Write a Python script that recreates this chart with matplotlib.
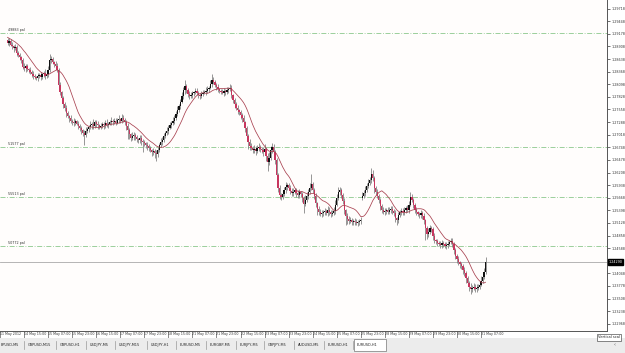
import numpy as np
import pandas as pd
import matplotlib
matplotlib.use("Agg")
import matplotlib.pyplot as plt

# EURUSD H1 closes. The first 13 bars are history left of the visible window
# (they only feed the moving average); bar 0 of the window is 14 May 04:00.
n_hidden = 13
closes = [
    1.2926, 1.2921, 1.2917, 1.2919, 1.2915, 1.2913, 1.2909, 1.2911, 1.2904, 1.2906, 1.2902, 1.2900, 1.2904,
    1.2898, 1.2902, 1.2894, 1.2891, 1.2887, 1.2889, 1.2876, 1.2872, 1.2868, 1.2861,
    1.2847, 1.2844, 1.2849, 1.2842, 1.2840, 1.2836, 1.2832, 1.2827, 1.2825, 1.2823,
    1.2827, 1.2829, 1.2825, 1.2832, 1.2834, 1.2827, 1.2832, 1.2840, 1.2861, 1.2864,
    1.2857, 1.2853, 1.2849, 1.2840, 1.2808, 1.2793, 1.2780, 1.2767, 1.2759, 1.2748,
    1.2742, 1.2737, 1.2731, 1.2729, 1.2727, 1.2731, 1.2725, 1.2720, 1.2716, 1.2712,
    1.2705, 1.2701, 1.2710, 1.2714, 1.2718, 1.2722, 1.2725, 1.2720, 1.2729, 1.2725,
    1.2722, 1.2718, 1.2720, 1.2725, 1.2722, 1.2727, 1.2722, 1.2725, 1.2729, 1.2731,
    1.2729, 1.2731, 1.2727, 1.2733, 1.2735, 1.2731, 1.2737, 1.2733, 1.2729, 1.2720,
    1.2712, 1.2703, 1.2695, 1.2699, 1.2701, 1.2697, 1.2692, 1.2690, 1.2695, 1.2688,
    1.2686, 1.2684, 1.2680, 1.2677, 1.2673, 1.2669, 1.2665, 1.2667, 1.2662, 1.2660,
    1.2669, 1.2680, 1.2686, 1.2690, 1.2699, 1.2705, 1.2710, 1.2716, 1.2722, 1.2727,
    1.2731, 1.2737, 1.2746, 1.2754, 1.2763, 1.2772, 1.2784, 1.2797, 1.2806, 1.2797,
    1.2789, 1.2784, 1.2787, 1.2791, 1.2793, 1.2795, 1.2791, 1.2787, 1.2784, 1.2789,
    1.2791, 1.2793, 1.2795, 1.2799, 1.2802, 1.2810, 1.2819, 1.2814, 1.2808, 1.2804,
    1.2799, 1.2795, 1.2793, 1.2791, 1.2795, 1.2793, 1.2797, 1.2799, 1.2802, 1.2787,
    1.2776, 1.2767, 1.2759, 1.2754, 1.2750, 1.2744, 1.2737, 1.2729, 1.2716, 1.2699,
    1.2686, 1.2677, 1.2673, 1.2669, 1.2671, 1.2667, 1.2673, 1.2675, 1.2671, 1.2669,
    1.2665, 1.2671, 1.2656, 1.2643, 1.2652, 1.2669, 1.2675, 1.2665, 1.2647, 1.2615,
    1.2588, 1.2573, 1.2568, 1.2575, 1.2583, 1.2590, 1.2594, 1.2588, 1.2581, 1.2577,
    1.2579, 1.2583, 1.2577, 1.2573, 1.2579, 1.2575, 1.2566, 1.2553, 1.2562, 1.2571,
    1.2579, 1.2588, 1.2596, 1.2583, 1.2571, 1.2555, 1.2543, 1.2536, 1.2532, 1.2534,
    1.2536, 1.2538, 1.2534, 1.2540, 1.2536, 1.2532, 1.2534, 1.2538, 1.2551, 1.2566,
    1.2579, 1.2583, 1.2573, 1.2560, 1.2540, 1.2528, 1.2521, 1.2517, 1.2519, 1.2515,
    1.2517, 1.2515, 1.2513, 1.2515, 1.2517, 1.2519, 1.2571, 1.2577, 1.2583, 1.2592,
    1.2598, 1.2605, 1.2618, 1.2609, 1.2588, 1.2579, 1.2571, 1.2562, 1.2549, 1.2540,
    1.2536, 1.2538, 1.2540, 1.2536, 1.2540, 1.2543, 1.2538, 1.2534, 1.2523, 1.2519,
    1.2530, 1.2536, 1.2538, 1.2536, 1.2540, 1.2545, 1.2540, 1.2551, 1.2568, 1.2562,
    1.2551, 1.2540, 1.2536, 1.2532, 1.2530, 1.2534, 1.2528, 1.2519, 1.2502, 1.2489,
    1.2493, 1.2502, 1.2500, 1.2485, 1.2476, 1.2474, 1.2470, 1.2468, 1.2466, 1.2470,
    1.2468, 1.2463, 1.2466, 1.2468, 1.2472, 1.2474, 1.2468, 1.2455, 1.2442, 1.2436,
    1.2429, 1.2425, 1.2421, 1.2412, 1.2406, 1.2395, 1.2384, 1.2376, 1.2371, 1.2374,
    1.2376, 1.2371, 1.2374, 1.2376, 1.2380, 1.2389, 1.2397, 1.2408, 1.2429,
]
first_open = 1.2928
gap_opens = {n_hidden + 236: 1.2566}  # Monday 28 May opening gap

# wick lengths above / below the body, in pips
upper_wick = [
    5, 4, 6, 3, 5, 4, 6, 5, 3, 6, 4, 5, 4,
    5, 7, 4, 6, 3, 8, 4, 6, 5, 3, 6, 8, 4, 5, 3, 6, 4, 7, 5, 3,
    6, 4, 8, 3, 5, 9, 4, 10, 14, 6, 5, 3, 6, 7, 4, 6, 3, 5, 4, 7,
    5, 3, 6, 4, 9, 5, 3, 6, 4, 5, 3, 6, 8, 4, 5, 9, 3, 10, 5, 4,
    6, 3, 7, 5, 4, 6, 8, 3, 5, 9, 4, 6, 7, 5, 9, 3, 10, 6, 4, 5,
    7, 5, 3, 9, 6, 4, 5, 3, 7, 6, 4, 5, 3, 6, 4, 5, 3, 7, 4, 6,
    7, 5, 9, 6, 7, 5, 9, 6, 7, 5, 9, 6, 7, 9, 5, 7, 10, 8, 12, 5,
    4, 6, 7, 5, 3, 6, 7, 5, 4, 6, 7, 5, 9, 7, 5, 10, 12, 7, 5, 4,
    6, 3, 5, 7, 6, 4, 7, 5, 9, 6, 3, 5, 4, 6, 3, 5, 4, 6, 3, 5,
    4, 6, 7, 5, 9, 6, 7, 9, 5, 4, 7, 10, 5, 7, 12, 9, 10, 6, 4, 5,
    4, 6, 3, 9, 7, 10, 5, 4, 7, 6, 9, 5, 4, 7, 6, 3, 5, 4, 10, 9,
    7, 10, 22, 5, 4, 6, 3, 5, 7, 6, 4, 7, 5, 9, 6, 4, 7, 9, 10, 9,
    10, 7, 5, 4, 6, 3, 5, 7, 6, 4, 5, 7, 6, 4, 5, 7, 9, 7, 9, 7,
    9, 7, 12, 9, 5, 4, 6, 3, 5, 4, 6, 7, 5, 7, 6, 7, 5, 4, 6, 3,
    7, 5, 7, 6, 7, 5, 7, 9, 12, 7, 5, 4, 6, 3, 5, 7, 4, 6, 3, 5,
    9, 7, 5, 4, 6, 3, 5, 4, 6, 7, 5, 4, 6, 7, 5, 7, 6, 3, 5, 4,
    6, 3, 5, 4, 6, 3, 5, 4, 7, 6, 7, 5, 7, 6, 7, 9, 7, 9, 10,
]
lower_wick = [
    4, 5, 3, 6, 4, 5, 3, 4, 6, 3, 7, 4, 5,
    4, 6, 3, 5, 7, 4, 6, 3, 7, 5, 4, 6, 7, 3, 5, 4, 7, 6, 3, 5,
    7, 4, 6, 3, 7, 5, 4, 6, 3, 5, 4, 7, 6, 3, 10, 7, 5, 7, 6, 9,
    5, 7, 4, 6, 7, 5, 3, 7, 6, 9, 7, 22, 5, 4, 6, 3, 7, 5, 4, 6,
    7, 4, 5, 3, 7, 6, 4, 5, 3, 7, 6, 4, 5, 3, 6, 4, 5, 3, 7, 9,
    20, 10, 7, 5, 9, 7, 6, 7, 5, 9, 22, 7, 6, 9, 7, 5, 9, 7, 10, 14,
    7, 5, 4, 6, 3, 5, 4, 6, 3, 5, 4, 6, 3, 5, 4, 6, 3, 5, 7, 6,
    7, 5, 4, 6, 7, 3, 5, 7, 6, 4, 5, 3, 6, 4, 5, 3, 6, 4, 5, 7,
    6, 4, 5, 3, 7, 6, 4, 5, 3, 7, 6, 7, 5, 7, 6, 9, 7, 5, 9, 10,
    14, 7, 5, 7, 6, 9, 5, 7, 6, 7, 9, 5, 10, 18, 7, 5, 7, 9, 7, 10,
    9, 10, 7, 5, 4, 6, 7, 5, 7, 6, 7, 5, 9, 7, 6, 7, 9, 20, 5, 4,
    6, 4, 5, 7, 6, 9, 14, 7, 5, 7, 6, 7, 5, 7, 6, 7, 5, 4, 6, 3,
    5, 7, 6, 7, 9, 20, 10, 7, 5, 7, 6, 7, 5, 7, 6, 7, 5, 4, 6, 3,
    5, 4, 6, 7, 12, 7, 5, 7, 9, 7, 5, 7, 6, 4, 5, 7, 6, 7, 9, 10,
    7, 5, 7, 6, 7, 5, 4, 6, 3, 5, 7, 6, 7, 5, 7, 6, 7, 9, 26, 10,
    7, 5, 7, 9, 7, 6, 7, 5, 7, 6, 7, 5, 7, 6, 4, 5, 7, 9, 7, 9,
    7, 9, 7, 9, 7, 12, 7, 9, 10, 7, 5, 7, 6, 4, 5, 3, 5, 4, 5,
]
ma_period = 14

# time scale: one label every 16 bars, starting at 11 May 23:00 (bar -5)
time_labels = [
    "11 May 2012", "14 May 15:00", "15 May 07:00", "15 May 23:00", "16 May 15:00",
    "17 May 07:00", "17 May 23:00", "18 May 15:00", "21 May 07:00", "21 May 23:00",
    "22 May 15:00", "23 May 07:00", "23 May 23:00", "24 May 15:00", "25 May 07:00",
    "25 May 23:00", "28 May 15:00", "29 May 07:00", "29 May 23:00", "30 May 15:00",
    "31 May 07:00",
]
# 1.24318 sits under the current-price box, so it is left out
price_ticks = [
    1.29718, 1.29448, 1.29178, 1.28908, 1.28638, 1.28368, 1.28098, 1.27828, 1.27558,
    1.27288, 1.27018, 1.26748, 1.26478, 1.26208, 1.25938, 1.25668, 1.25398, 1.25128,
    1.24858, 1.24588, 1.24048, 1.23778, 1.23508, 1.23238, 1.22968,
]
pivot_levels = [1.29191, 1.26761, 1.25677, 1.24634]
pivot_names = ["49883 pal", "51577 pal", "55513 pal", "50772 pal"]
current_price = 1.24290

tab_names = ["BPUSD,M5", "GBPUSD,M15", "GBPUSD,H1", "USDJPY,M5", "USDJPY,M15",
             "USDJPY,H1", "EURUSD,M5", "EURGBP,M5", "EURJPY,M5", "GBPJPY,M5",
             "AUDUSD,M5", "EURUSD,H1", "EURUSD,H1"]
active_tab = 12

# ---- build OHLC ----
df = pd.DataFrame({"close": closes})
df["open"] = df["close"].shift(1)
df.loc[0, "open"] = first_open
for i, v in gap_opens.items():
    df.loc[i, "open"] = v
df["high"] = df[["open", "close"]].max(axis=1) + np.array(upper_wick) * 1e-4
df["low"] = df[["open", "close"]].min(axis=1) - np.array(lower_wick) * 1e-4
df["ma"] = df["close"].rolling(ma_period).mean()
df["x"] = np.arange(len(df)) - n_hidden
vis = df[df["x"] >= 0]

W, H = 625, 353
fig = plt.figure(figsize=(W / 100, H / 100), dpi=100)
fig.patch.set_facecolor("#ffffff")
ax = fig.add_axes([0, 22 / H, 607 / W, 331 / H])
ax.set_facecolor("#fffdfc")

bull = vis[vis["close"] >= vis["open"]]
bear = vis[vis["close"] < vis["open"]]
ax.vlines(vis["x"], vis["low"], vis["high"], color="#7a7a7a", lw=0.55, zorder=2)
ax.bar(bull["x"], bull["close"] - bull["open"], bottom=bull["open"], width=0.85,
       color="#111111", lw=0, zorder=3)
ax.bar(bear["x"], bear["close"] - bear["open"], bottom=bear["open"], width=0.85,
       color="#c8365f", lw=0, zorder=3)
ax.plot(df["x"], df["ma"], color="#a8404f", lw=0.55, zorder=4)

for lvl, name in zip(pivot_levels, pivot_names):
    ax.axhline(lvl, color="#8cc88c", lw=0.6, ls=(0, (6, 2, 1, 2)), zorder=1)
    ax.text(0, lvl + 0.0002, name, fontsize=2.4, color="#333333", ha="left", va="bottom")
ax.axhline(current_price, color="#a9a9a9", lw=0.6, zorder=1)

ax.set_xlim(-0.5, 398.8)
ax.set_ylim(1.22812, 1.29904)
for s in ("top", "left"):
    ax.spines[s].set_visible(False)
for s in ("right", "bottom"):
    ax.spines[s].set_color("#555555")
    ax.spines[s].set_linewidth(0.7)

ax.yaxis.tick_right()
ax.set_yticks(price_ticks, [f"{p:.5f}" for p in price_ticks])
ax.tick_params(axis="y", length=2, width=0.5, pad=1, labelsize=2.4, colors="#333333")
tpos = [-5 + 16 * k for k in range(len(time_labels))]
ax.set_xticks(tpos, time_labels, ha="left")
ax.tick_params(axis="x", length=5, width=0.4, pad=-4.4, labelsize=2.3,
               colors="#333333", direction="out")

ax.annotate(f"{current_price:.5f}", xy=(1, current_price), xycoords=ax.get_yaxis_transform(),
            xytext=(1.2, 0), textcoords="offset points", fontsize=2.4, color="white",
            va="center", ha="left", annotation_clip=False,
            bbox=dict(boxstyle="square,pad=0.25", fc="black", ec="black"))

# "Vertical scale" tooltip
fig.text(598 / W, 1 - 337.5 / H, "Vertical scal", fontsize=2.6, color="#222222",
         va="center", ha="left",
         bbox=dict(boxstyle="square,pad=0.3", fc="#ffffff", ec="#555555", lw=0.5))

# symbol tab strip
tab_ax = fig.add_axes([0, 0, 1, 15 / H])
tab_ax.set_xlim(0, W)
tab_ax.set_ylim(0, 15)
tab_ax.axis("off")
tab_ax.add_patch(plt.Rectangle((0, 0), W, 15, fc="#ececec", ec="none"))
tab_left = [-2, 25, 57, 87, 116, 148, 177, 207, 237, 265, 295, 325, 354]
tab_right = tab_left[1:] + [386]
for k, (name, l, r) in enumerate(zip(tab_names, tab_left, tab_right)):
    if k == active_tab:
        tab_ax.add_patch(plt.Rectangle((l, 2), r - l, 12, fc="#ffffff", ec="#777777", lw=0.5))
    else:
        tab_ax.plot([r - 1, r - 1], [4, 12], color="#999999", lw=0.5)
    tab_ax.text(l + 3, 8, name, fontsize=2.5, color="#222222", va="center", ha="left")
tab_ax.text(614, 8, "‹", fontsize=3.5, color="#555555", va="center")

fig.savefig("out.png", dpi=100, facecolor=fig.get_facecolor())
